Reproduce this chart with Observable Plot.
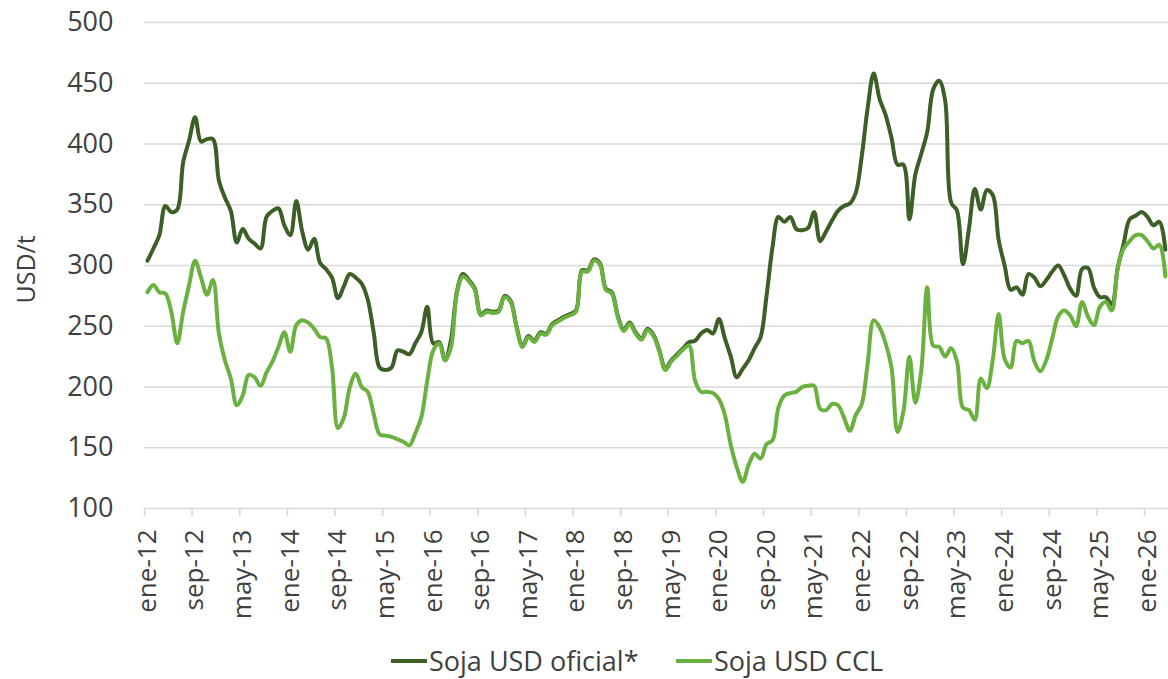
<!DOCTYPE html>
<html>
<head>
<meta charset="utf-8">
<script src="https://cdn.jsdelivr.net/npm/d3@7"></script>
<script src="https://cdn.jsdelivr.net/npm/@observablehq/plot@0.6"></script>
<style>
  html, body { margin: 0; padding: 0; background: #ffffff; }
  #wrap { width: 1168px; height: 679px; overflow: hidden; font-family: "Open Sans", sans-serif; }
  #legend { position: relative; width: 1168px; height: 39px; }
  .item { position: absolute; top: 3px; height: 36px; display: flex; align-items: center; font-size: 27px; line-height: 36px; color: #404040; white-space: nowrap; }
  .sw { width: 36px; height: 4px; margin-right: 2px; }
</style>
</head>
<body>
<div id="wrap">
  <div id="chart"></div>
  <div id="legend"></div>
</div>
<script>
// ---- data (monthly, starting ene-12) ----
const tickLabels = ["ene-12","sep-12","may-13","ene-14","sep-14","may-15","ene-16","sep-16","may-17","ene-18","sep-18","may-19","ene-20","sep-20","may-21","ene-22","sep-22","may-23","ene-24","sep-24","may-25","ene-26"];
const yTicks = [100, 150, 200, 250, 300, 350, 400, 450, 500];
const seriesNames = ["Soja USD oficial*", "Soja USD CCL"];
const seriesColors = ["#3b5f25", "#6bb140"];
const yLabel = "USD/t";

const oficial = [
  304,314,325,349,344,346,385,403,422,402,404,404,370,356,345,319,330,322,318,314,
  340,345,347,333,325,353,328,313,322,302,297,290,273,283,293,290,285,272,245,216,
  214,216,230,229,227,236,245,266,236,237,222,239,279,293,288,281,260,263,262,263,
  275,271,250,234,242,238,245,244,252,255,258,260,263,296,296,305,302,281,278,259,
  247,253,245,240,248,243,230,215,222,227,232,237,238,244,247,244,256,240,225,208,
  215,222,232,241,275,315,340,336,340,330,329,331,344,320,328,337,345,349,351,360,
  390,430,458,437,424,405,383,383,338,375,392,410,445,452,436,352,345,301,330,363,
  346,362,358,321,300,280,282,276,293,290,283,288,295,300,292,281,275,297,298,282,
  274,274,268,298,318,338,341,344,340,333,336,313
];
const ccl = [
  278,284,278,277,262,236,262,284,304,290,276,288,244,222,207,185,193,210,208,201,
  212,221,233,245,229,251,255,253,248,241,240,216,166,175,200,211,200,196,178,161,
  160,159,157,155,152,162,175,205,230,236,222,233,278,291,287,280,259,262,261,262,
  274,270,249,233,241,237,244,243,251,254,257,259,262,295,295,304,301,280,277,258,
  246,252,244,239,247,242,229,214,221,226,231,234,205,196,196,195,190,177,152,134,
  122,136,145,141,153,156,183,193,195,196,200,201,201,182,181,186,185,175,164,177,
  186,220,255,249,236,216,163,180,225,187,214,282,234,233,225,232,221,183,181,173,
  207,199,222,260,223,216,238,236,238,221,213,222,240,258,263,259,250,270,258,251,
  266,270,263,298,314,320,325,325,320,314,317,291
];

// ---- table for Plot ----
const rows = [];
oficial.forEach((v, i) => rows.push({ i, v, s: seriesNames[0] }));
ccl.forEach((v, i) => rows.push({ i, v, s: seriesNames[1] }));
const labelIdx = tickLabels.map((_, k) => k * 8);
const tickBounds = labelIdx.map(d => d - 0.5);

const chart = Plot.plot({
  width: 1168,
  height: 640,
  marginLeft: 144,
  marginRight: 0,
  marginTop: 22,
  marginBottom: 132,
  style: { fontFamily: "Open Sans, sans-serif", fontSize: "27px", color: "#404040", background: "#ffffff", overflow: "visible" },
  x: { domain: [-0.5, 171.53], axis: null },
  y: { domain: [100, 500], axis: null },
  color: { domain: seriesNames, range: seriesColors },
  marks: [
    Plot.gridY(yTicks, { stroke: "#d9d9d9", strokeOpacity: 1, strokeWidth: 1.6 }),
    Plot.axisY(yTicks, { tickSize: 0, tickPadding: 31, fontSize: 27, label: null }),
    Plot.axisX(tickBounds, { tickSize: 8, stroke: "#d9d9d9", strokeWidth: 1.6, tickFormat: () => "", label: null }),
    Plot.axisX(labelIdx, { tickSize: 0, tickPadding: 21, tickRotate: -90, fontSize: 26, tickFormat: d => tickLabels[d / 8], label: null }),
    Plot.text([yLabel], { text: d => d, frameAnchor: "left", rotate: -90, dx: -118, dy: 38, fontSize: 25, fill: "#404040" }),
    Plot.line(rows, { x: "i", y: "v", z: "s", stroke: "s", strokeWidth: 4, curve: "catmull-rom", strokeLinejoin: "round", strokeLinecap: "round" })
  ]
});
document.getElementById("chart").appendChild(chart);

// ---- legend below the SVG ----
const legend = document.getElementById("legend");
const legendLeft = [391, 676];
seriesNames.forEach((name, k) => {
  const it = document.createElement("div");
  it.className = "item";
  it.style.left = legendLeft[k] + "px";
  const sw = document.createElement("span");
  sw.className = "sw";
  sw.style.background = seriesColors[k];
  const tx = document.createElement("span");
  tx.textContent = name;
  it.appendChild(sw);
  it.appendChild(tx);
  legend.appendChild(it);
});
</script>
</body>
</html>
